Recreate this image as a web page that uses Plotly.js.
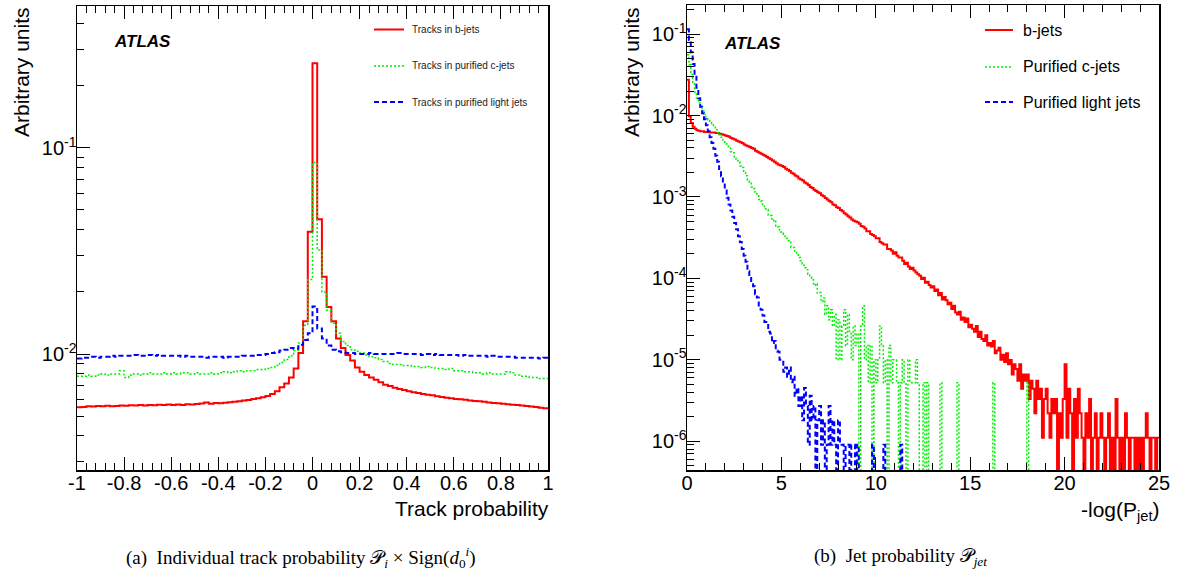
<!DOCTYPE html>
<html><head><meta charset="utf-8">
<script src="https://cdn.plot.ly/plotly-3.0.1.min.js"></script>
<style>html,body{margin:0;padding:0;background:#fff}</style>
</head><body><div id="chart" style="width:1180px;height:575px"></div>
<script>
// ---------- Panel (a): track probability, 100 bins of 0.02 from -1 to 1 ----------
const trackBinStart = -1, trackBinWidth = 0.02, trackNBins = 100;
const trackB = [
 0.00552,0.00553,0.00558,0.00556,0.00560,0.00558,0.00561,0.00557,0.00559,0.00563,
 0.00561,0.00564,0.00562,0.00565,0.00563,0.00566,0.00564,0.00567,0.00565,0.00568,
 0.00566,0.00568,0.00566,0.00570,0.00568,0.00572,0.00575,0.00582,0.00574,0.00578,
 0.00577,0.00580,0.00583,0.00587,0.00590,0.00594,0.00598,0.00604,0.00610,0.00617,
 0.00625,0.00640,0.00660,0.00690,0.00720,0.00770,0.00850,0.01010,0.01440,0.03920,
 0.25760,0.04510,0.02370,0.01690,0.01440,0.01190,0.01070,0.00990,0.00930,0.00860,
 0.00820,0.00790,0.00770,0.00750,0.00730,0.00710,0.00700,0.00686,0.00677,0.00668,
 0.00660,0.00652,0.00646,0.00640,0.00635,0.00630,0.00623,0.00618,0.00613,0.00610,
 0.00605,0.00603,0.00600,0.00595,0.00592,0.00590,0.00586,0.00581,0.00578,0.00576,
 0.00574,0.00570,0.00567,0.00566,0.00562,0.00560,0.00556,0.00553,0.00549,0.00545];
const trackC = [
 0.0078,0.0078,0.0079,0.0078,0.0079,0.0080,0.0079,0.0080,0.0080,0.0083,
 0.0077,0.0079,0.0080,0.0079,0.0080,0.0081,0.0080,0.0080,0.0081,0.0080,
 0.0081,0.0080,0.0081,0.0081,0.0080,0.0081,0.0080,0.0080,0.0081,0.0080,
 0.0081,0.0082,0.0081,0.0082,0.0083,0.0082,0.0083,0.0083,0.0084,0.0084,
 0.0085,0.0086,0.0088,0.0091,0.0094,0.0098,0.0104,0.0113,0.0138,0.0230,
 0.0849,0.0320,0.0200,0.0163,0.0141,0.0126,0.0115,0.0110,0.0105,0.0103,
 0.0101,0.0099,0.0097,0.0096,0.0094,0.0092,0.0090,0.0089,0.0089,0.0088,
 0.0088,0.0087,0.0087,0.0086,0.0087,0.0086,0.0085,0.0085,0.0084,0.0085,
 0.0083,0.0083,0.0082,0.0082,0.0081,0.0081,0.0080,0.0081,0.0080,0.0080,
 0.0080,0.0082,0.0081,0.0079,0.0078,0.0078,0.0077,0.0077,0.0076,0.0076];
const trackL = [
 0.0095,0.0096,0.0096,0.0097,0.0096,0.0097,0.0097,0.0098,0.0097,0.0098,
 0.0098,0.0098,0.0099,0.0098,0.0098,0.0099,0.0098,0.0099,0.0098,0.0098,
 0.0098,0.0098,0.0097,0.0098,0.0097,0.0097,0.0097,0.0096,0.0097,0.0097,
 0.0097,0.0096,0.0097,0.0097,0.0097,0.0098,0.0098,0.0098,0.0099,0.0099,
 0.0100,0.0101,0.0102,0.0104,0.0105,0.0107,0.0106,0.0111,0.0117,0.0126,
 0.0170,0.0133,0.0119,0.0110,0.0105,0.0103,0.0102,0.0101,0.0101,0.0100,
 0.0100,0.0100,0.0101,0.0100,0.0100,0.0100,0.0100,0.0100,0.0101,0.0100,
 0.0100,0.0100,0.0100,0.0099,0.0100,0.0099,0.0100,0.0099,0.0099,0.0099,
 0.0099,0.0098,0.0099,0.0098,0.0098,0.0098,0.0098,0.0097,0.0098,0.0097,
 0.0097,0.0097,0.0097,0.0096,0.0096,0.0096,0.0096,0.0096,0.0095,0.0096];
const trackXTicks = [-1,-0.8,-0.6,-0.4,-0.2,0,0.2,0.4,0.6,0.8,1];
const trackXTickText = ['-1','-0.8','-0.6','-0.4','-0.2','0','0.2','0.4','0.6','0.8','1'];
const trackYTicks = [0.01, 0.1];
const trackYExp = ['-2','-1'];

// ---------- Panel (b): -log(P_jet), bins of 0.1 from 0 to 25 (bins after the listed ones are empty) ----------
const jetBinStart = 0, jetBinWidth = 0.1, jetNBins = 250;
const jetB = [
 0.0275,0.0098,0.0081,0.0073,0.0069,0.0066,0.0065,0.0064,0.0064,0.0063,
 0.0063,0.0063,0.0062,0.0062,0.0062,0.0061,0.0061,0.0060,0.0059,0.0058,
 0.0057,0.0056,0.0055,0.0053,0.0052,0.0051,0.0049,0.0048,0.0047,0.0046,
 0.0044,0.0043,0.0042,0.0041,0.0040,0.0039,0.0037,0.0036,0.0035,0.0034,
 0.0033,0.0032,0.0031,0.0030,0.0029,0.0028,0.0027,0.0026,0.0025,0.00245,
 0.0024,0.00233,0.00223,0.00216,0.00208,0.00198,0.00193,0.00183,0.00178,0.00169,
 0.00164,0.00159,0.00151,0.00146,0.00140,0.00133,0.00129,0.00123,0.00118,0.00114,
 0.00111,0.00105,0.00102,0.00097,0.00093,0.00089,0.00086,0.00081,0.00079,0.00075,
 0.00073,0.00069,0.00067,0.00063,0.00061,0.00058,0.00056,0.00053,0.00051,0.00050,
 0.00049,0.00047,0.00044,0.00043,0.00041,0.00038,0.00038,0.00035,0.00034,0.00033,
 0.00031,0.00031,0.00028,0.00027,0.00026,0.00026,0.00023,0.00023,0.00022,0.00020,
 0.00021,0.00019,0.00018,0.00018,0.000165,0.00015,0.000155,0.00014,0.00013,0.000135,
 0.000125,0.000118,0.000112,0.000108,0.000098,0.000102,0.000088,0.000091,0.000083,0.000077,
 8.0e-5,7.0e-5,7.3e-5,6.2e-5,6.6e-5,5.5e-5,5.9e-5,5.4e-5,4.8e-5,5.0e-5,
 4.2e-5,4.6e-5,3.8e-5,3.6e-5,3.9e-5,3.1e-5,3.3e-5,2.9e-5,3.2e-5,2.5e-5,
 2.7e-5,2.4e-5,2.2e-5,2.6e-5,1.9e-5,2.2e-5,1.8e-5,1.7e-5,2.0e-5,1.5e-5,
 1.6e-5,1.45e-5,1.7e-5,1.2e-5,1.3e-5,1.4e-5,1.0e-5,1.15e-5,9.4e-6,1.2e-5,
 8.8e-6,9.9e-6,6.6e-6,8.8e-6,7.7e-6,5.5e-6,8.8e-6,4.4e-6,6.6e-6,5.5e-6,
 6.6e-6,3.3e-6,5.5e-6,4.4e-6,2.2e-6,5.5e-6,3.3e-6,4.4e-6,1.1e-6,3.3e-6,
 4.4e-6,2.2e-6,1.1e-6,3.3e-6,2.2e-6,3.3e-6,0,2.2e-6,1.1e-6,3.3e-6,
 8.8e-6,1.1e-6,4.4e-6,2.2e-6,0,3.3e-6,1.1e-6,4.4e-6,2.2e-6,1.1e-6,
 0,2.2e-6,1.1e-6,3.3e-6,0,1.1e-6,2.2e-6,0,1.1e-6,2.2e-6,
 1.1e-6,0,1.1e-6,2.2e-6,0,1.1e-6,0,3.3e-6,1.1e-6,0,
 1.1e-6,0,2.2e-6,1.1e-6,0,1.1e-6,1.1e-6,0,1.1e-6,0,
 1.1e-6,0,1.1e-6,2.2e-6,1.1e-6,0,1.1e-6,1.1e-6,0,1.1e-6];
const jetC = [
 0.056,0.042,0.032,0.025,0.0195,0.0165,0.0143,0.0127,0.0114,0.0104,
 0.0096,0.0089,0.0083,0.0077,0.0072,0.0067,0.0062,0.0058,0.0054,0.0050,
 0.0046,0.0042,0.0040,0.0036,0.0035,0.0031,0.0029,0.0027,0.0024,0.0023,
 0.0020,0.00182,0.00162,0.00152,0.00133,0.00127,0.0011,0.00106,0.00093,0.00089,
 0.00080,0.00071,0.00070,0.00060,0.00059,0.00051,0.00052,0.00044,0.00043,0.00037,
 0.00036,0.00033,0.00031,0.00029,0.00028,0.00024,0.00024,0.00021,0.00020,0.00018,
 0.000165,0.00015,0.000135,0.000128,0.000112,0.000104,0.000096,0.000082,0.000086,0.000066,
 6.7e-5,5.2e-5,5.7e-5,3.6e-5,4.6e-5,3.1e-5,4.1e-5,2.6e-5,3.6e-5,1.0e-5,
 3.1e-5,1.0e-5,2.6e-5,4.1e-5,1.5e-5,3.6e-5,2.1e-5,1.0e-5,2.6e-5,1.5e-5,
 2.1e-5,0,2.6e-5,4.6e-5,1.0e-5,1.5e-5,5.2e-6,1.5e-5,0,1.0e-5,
 5.2e-6,1.0e-5,2.6e-5,1.5e-5,5.2e-6,1.0e-5,0,1.5e-5,5.2e-6,1.0e-5,
 1.0e-5,5.2e-6,0,5.2e-6,1.0e-5,5.2e-6,0,1.0e-5,5.2e-6,5.2e-6,
 5.2e-6,1.0e-5,5.2e-6,0,0,5.2e-6,0,5.2e-6,0,0,
 0,0,0,0,5.2e-6,0,0,0,0,0,
 0,0,0,5.2e-6,0,0,0,0,0,0,
 0,0,0,0,0,0,0,0,0,0,
 0,0,5.2e-6,0,0,0,0,0,0,0,
 0,0,0,0,0,0,0,0,0,0,
 5.2e-6];
const jetL = [
 0.115,0.085,0.060,0.043,0.031,0.022,0.0163,0.0128,0.0107,0.0090,
 0.0076,0.0064,0.0054,0.0046,0.0039,0.0032,0.0027,0.0022,0.0018,0.00148,
 0.0012,0.00098,0.00081,0.00068,0.00057,0.00048,0.0004,0.00033,0.00028,0.00023,
 0.00019,0.00016,0.000122,0.00011,0.000088,0.00008,0.000064,0.000058,0.000044,0.000041,
 3.5e-5,2.9e-5,2.8e-5,2.2e-5,2.1e-5,1.6e-5,1.7e-5,1.3e-5,1.25e-5,1.0e-5,
 9.8e-6,7.1e-6,8.0e-6,6.2e-6,8.0e-6,5.3e-6,6.2e-6,3.6e-6,4.5e-6,2.7e-6,
 3.6e-6,1.8e-6,4.5e-6,2.7e-6,0.9e-6,3.6e-6,1.8e-6,2.7e-6,0,1.8e-6,
 2.7e-6,0.9e-6,1.8e-6,0,0.9e-6,2.7e-6,0.9e-6,1.8e-6,0.9e-6,0,
 1.8e-6,0.9e-6,0.9e-6,0,0.9e-6,0.9e-6,0,0.9e-6,0.9e-6,0,
 0.9e-6,0,0,0,0,0,0,0,0.9e-6,0,
 0,0,0,0,0.9e-6,0,0,0,0,0,
 0,0,0,0.9e-6];
const jetXTicks = [0,5,10,15,20,25];
const jetYTicks = [1e-6,1e-5,1e-4,1e-3,1e-2,1e-1];
const jetYExp = ['-6','-5','-4','-3','-2','-1'];

const trackLegend = ['Tracks in b-jets','Tracks in purified c-jets','Tracks in purified light jets'];
const jetLegend = ['b-jets','Purified c-jets','Purified light jets'];

// ---------- helpers ----------
const W = 1180, H = 575;
const EMPTY = 1e-12; // empty bins drop below the frame (as ROOT draws them)
function steps(start, width, n, vals){
  const xs = [], ys = [];
  for (let i = 0; i < n; i++) {
    const v = i < vals.length ? vals[i] : 0;
    xs.push(+(start + i*width).toFixed(6));
    ys.push(v > 0 ? v : EMPTY);
  }
  xs.push(+(start + n*width).toFixed(6));
  ys.push(ys[ys.length-1]);
  return {xs, ys};
}
function minorLog(lo, hi){
  const out = [];
  for (let e = lo; e <= hi; e++) for (let m = 2; m <= 9; m++) out.push(m*Math.pow(10,e));
  return out;
}
const powLabel = e => '10<sup>' + e + '</sup>';
const px = v => v / W, py = v => 1 - v / H;

const RED = '#ff0000', GREEN = '#00ee00', BLUE = '#0000ff';
const styles = [
  {color: RED, width: 2, dash: 'solid'},
  {color: GREEN, width: 1.5, dash: '2px,2px'},
  {color: BLUE, width: 2, dash: '5px,3px'}
];

const traces = [];
[trackB, trackC, trackL].forEach((vals, k) => {
  const s = steps(trackBinStart, trackBinWidth, trackNBins, vals);
  traces.push({x: s.xs, y: s.ys, xaxis: 'x', yaxis: 'y', type: 'scatter', mode: 'lines',
    line: Object.assign({shape: 'hv'}, styles[k]), hoverinfo: 'skip', name: trackLegend[k]});
});
[jetB, jetC, jetL].forEach((vals, k) => {
  const s = steps(jetBinStart, jetBinWidth, jetNBins, vals);
  traces.push({x: s.xs, y: s.ys, xaxis: 'x2', yaxis: 'y2', type: 'scatter', mode: 'lines',
    line: Object.assign({shape: 'hv'}, styles[k]), hoverinfo: 'skip', name: jetLegend[k]});
});

const SANS = 'Liberation Sans, Arial, Helvetica, sans-serif';
const SERIF = 'Liberation Serif, Times New Roman, serif';
const tickFont = {family: SANS, size: 20, color: '#000'};
const axBase = {
  showgrid: false, zeroline: false, showline: true, linecolor: '#000', linewidth: 1.5,
  ticks: 'inside', ticklen: 13, tickwidth: 1, tickcolor: '#000', tickfont: tickFont
};

const layout = {
  width: W, height: H, margin: {l: 0, r: 0, t: 0, b: 0},
  paper_bgcolor: '#fff', plot_bgcolor: '#fff', showlegend: false,
  xaxis: Object.assign({}, axBase, {
    domain: [px(77), px(548)], range: [-1, 1], anchor: 'y', mirror: 'allticks',
    tickmode: 'array', tickvals: trackXTicks, ticktext: trackXTickText, ticklabelstandoff: -6,
    minor: {dtick: 0.04, tick0: -1, ticks: 'inside', ticklen: 7, tickcolor: '#000', showgrid: false}
  }),
  yaxis: Object.assign({}, axBase, {
    domain: [py(470), py(6)], type: 'log', range: [-2.563, -0.311], anchor: 'x', mirror: true,
    tickmode: 'array', tickvals: trackYTicks, ticktext: trackYExp.map(powLabel), ticklabelstandoff: -5,
    minor: {tickmode: 'array', tickvals: minorLog(-3, -1), ticks: 'inside', ticklen: 7, tickcolor: '#000', showgrid: false}
  }),
  xaxis2: Object.assign({}, axBase, {
    domain: [px(687), px(1159)], range: [0, 25], anchor: 'y2', mirror: 'allticks',
    tickmode: 'array', tickvals: jetXTicks, ticklabelstandoff: -6,
    minor: {dtick: 1, tick0: 0, ticks: 'inside', ticklen: 7, tickcolor: '#000', showgrid: false}
  }),
  yaxis2: Object.assign({}, axBase, {
    domain: [py(470), py(5)], type: 'log', range: [-6.355, -0.641], anchor: 'x2', mirror: true,
    tickmode: 'array', tickvals: jetYTicks, ticktext: jetYExp.map(powLabel), ticklabelstandoff: -5,
    minor: {tickmode: 'array', tickvals: minorLog(-7, -1), ticks: 'inside', ticklen: 7, tickcolor: '#000', showgrid: false}
  }),
  shapes: [], annotations: []
};

// legends (drawn like the ROOT legend boxes)
const legRowsY = [29.5, 66, 102];
legRowsY.forEach((y, k) => {
  layout.shapes.push({type: 'line', xref: 'paper', yref: 'paper', x0: px(374), x1: px(404), y0: py(y), y1: py(y),
    line: {color: styles[k].color, width: styles[k].width, dash: styles[k].dash}});
  layout.annotations.push({xref: 'paper', yref: 'paper', x: px(410), y: py(y), xanchor: 'left', yanchor: 'middle',
    text: trackLegend[k], showarrow: false, font: {family: SANS, size: 10, color: '#222'}});
});
const legRowsY2 = [30, 67, 102];
legRowsY2.forEach((y, k) => {
  layout.shapes.push({type: 'line', xref: 'paper', yref: 'paper', x0: px(985), x1: px(1013), y0: py(y), y1: py(y),
    line: {color: styles[k].color, width: styles[k].width, dash: styles[k].dash}});
  layout.annotations.push({xref: 'paper', yref: 'paper', x: px(1021), y: py(y), xanchor: 'left', yanchor: 'middle',
    text: jetLegend[k], showarrow: false, font: {family: SANS, size: 16, color: '#000'}});
});

const ann = (x, y, text, opts) => layout.annotations.push(Object.assign({xref: 'paper', yref: 'paper',
  x: px(x), y: py(y), text: text, showarrow: false}, opts));
ann(112, 42, '<b><i>ATLAS</i></b>', {xanchor: 'left', yanchor: 'middle', font: {family: SANS, size: 17, color: '#000'}});
ann(722, 43, '<b><i>ATLAS</i></b>', {xanchor: 'left', yanchor: 'middle', font: {family: SANS, size: 17, color: '#000'}});
ann(21, 72, 'Arbitrary units', {xanchor: 'center', yanchor: 'middle', textangle: -90, font: {family: SANS, size: 21, color: '#000'}});
ann(631, 72, 'Arbitrary units', {xanchor: 'center', yanchor: 'middle', textangle: -90, font: {family: SANS, size: 21, color: '#000'}});
ann(551, 508, 'Track probability', {xanchor: 'right', yanchor: 'middle', font: {family: SANS, size: 21, color: '#000'}});
ann(1162, 511, '-log(P<sub>jet</sub>)', {xanchor: 'right', yanchor: 'middle', font: {family: SANS, size: 21, color: '#000'}});
ann(301, 557, '(a)  Individual track probability 𝒫<sub><i>i</i></sub> × Sign(<i>d</i><sub>0</sub><sup><i>i</i></sup>)',
  {xanchor: 'center', yanchor: 'middle', font: {family: SERIF, size: 19, color: '#000'}});
ann(900, 557, '(b)  Jet probability 𝒫<sub><i>jet</i></sub>',
  {xanchor: 'center', yanchor: 'middle', font: {family: SERIF, size: 19, color: '#000'}});

Plotly.newPlot('chart', traces, layout, {staticPlot: true, displayModeBar: false});
</script></body></html>
